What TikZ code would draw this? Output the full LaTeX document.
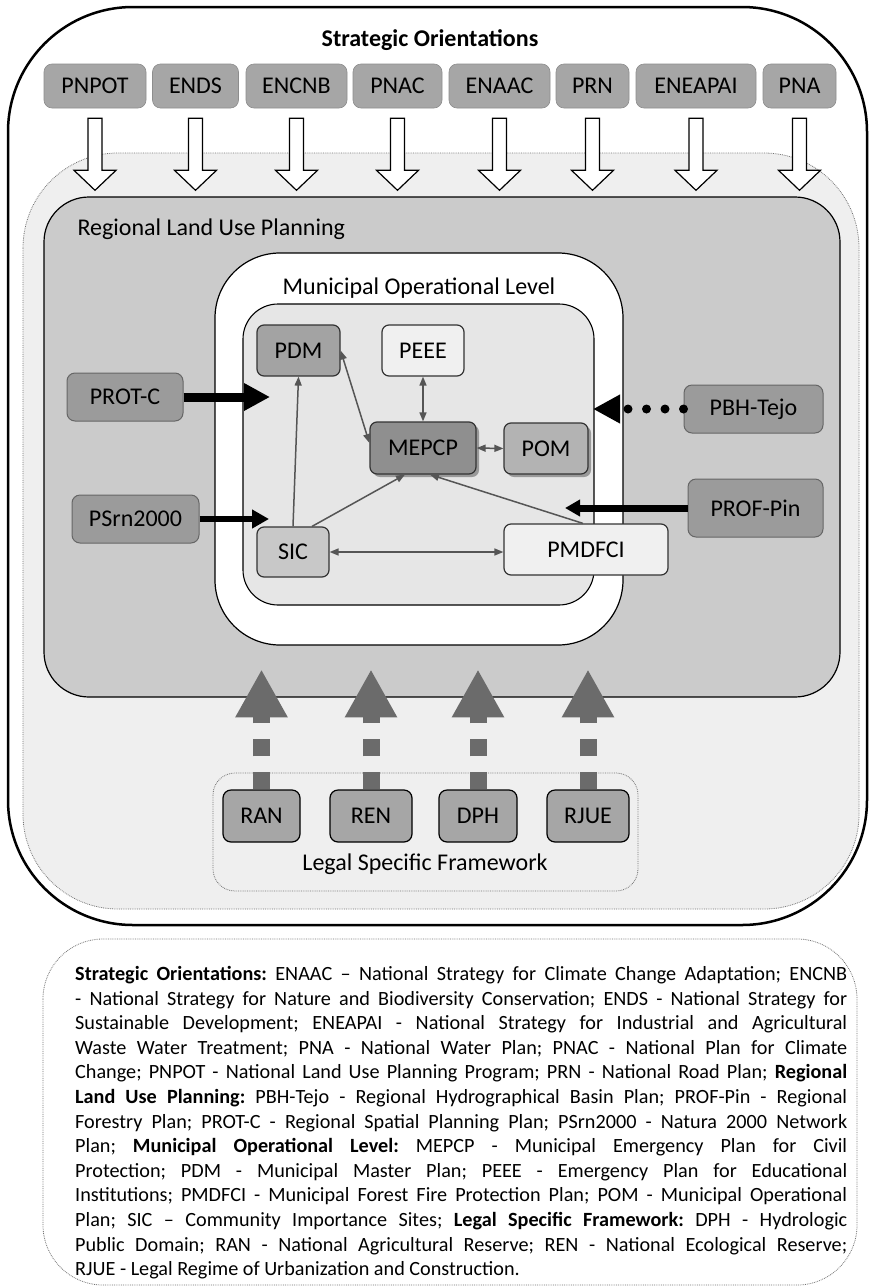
\documentclass[tikz,border=0pt]{standalone}
\usepackage{fontspec}
\setmainfont{Carlito}
\usetikzlibrary{arrows.meta,shadows,calc}
\definecolor{ctop}{HTML}{A6A6A6}
\definecolor{cdot}{HTML}{EFEFEF}
\definecolor{creg}{HTML}{CBCBCB}
\definecolor{cin}{HTML}{E6E6E6}
\definecolor{cpdm}{HTML}{A3A3A3}
\definecolor{cmep}{HTML}{8F8F8F}
\definecolor{cpom}{HTML}{B3B3B3}
\definecolor{clight}{HTML}{F0F0F0}
\definecolor{csic}{HTML}{C8C8C8}
\definecolor{cside}{HTML}{9B9B9B}
\definecolor{clegal}{HTML}{A6A6A6}
\definecolor{cdash}{HTML}{6B6B6B}
\definecolor{cline}{HTML}{555555}
\newcommand\labfont{\fontsize{24}{28}\selectfont}
\newcommand\hollowarrow[1]{%
  \draw[harrow] ($(#1.south)+(-7,10)$) -- ($(#1.south)+(-7,62)$) -- ($(#1.south)+(-21,62)$)
    -- ($(#1.south)+(0,82)$) -- ($(#1.south)+(21,62)$) -- ($(#1.south)+(7,62)$)
    -- ($(#1.south)+(7,10)$) -- cycle;}
\begin{document}
\begin{tikzpicture}[x=1pt,y=-1pt,
  topbox/.style={fill=ctop, draw=ctop!85!black, line width=0.6pt, rounded corners=8pt, minimum height=44pt, inner sep=0pt, font=\labfont},
  inbox/.style={draw=black!80, line width=1.2pt, rounded corners=7pt, inner sep=0pt, font=\labfont, minimum height=51pt},
  sidebox/.style={fill=cside, draw=black!60, line width=1pt, rounded corners=8pt, inner sep=0pt, font=\labfont, minimum height=48pt},
  legalbox/.style={fill=clegal, draw=black, line width=1.2pt, rounded corners=8pt, inner sep=0pt, font=\labfont, minimum height=52pt},
  harrow/.style={draw=black, fill=white, line width=1.2pt, line join=miter},
  conn/.style={draw=cline, line width=1.5pt, {Triangle[length=9pt,width=7pt]}-{Triangle[length=9pt,width=7pt]}},
  conn1/.style={draw=cline, line width=1.5pt, -{Triangle[length=9pt,width=7pt]}},
  dasharrow/.style={draw=cdash, line width=17pt, dash pattern=on 17pt off 16pt, -{Triangle[length=48pt,width=49pt]}},
  shd/.style={drop shadow={shadow xshift=3pt, shadow yshift=-3pt, fill=black!40, opacity=1}}
]
\useasboundingbox (0,0) rectangle (870,1288);
\fill[white] (0,0) rectangle (870,1288);

% containers
\draw[line width=2.5pt, rounded corners=125pt] (8,7) rectangle (867,925);
\draw[densely dotted, draw=black!55, fill=cdot, line width=0.8pt, rounded corners=95pt] (23,153) rectangle (859,909);
\draw[fill=creg, line width=1.2pt, rounded corners=45pt] (44,197) rectangle (840,697);
\draw[fill=white, line width=1.2pt, rounded corners=65pt] (215,253) rectangle (623,645);
\draw[fill=cin, line width=1.1pt, rounded corners=35pt] (243,304) rectangle (594,605);
\draw[densely dotted, draw=black!55, line width=0.8pt, rounded corners=22pt] (213,773) rectangle (638,891);
\draw[densely dotted, draw=black!55, line width=0.8pt, rounded corners=60pt] (43,939) rectangle (857,1285);

% titles
\node[font=\labfont\bfseries] (tSO) at (430,40) {Strategic Orientations};
\node[font=\labfont, anchor=west] (tRLUP) at (74,229) {Regional Land Use Planning};
\node[font=\labfont] (tMOL) at (419,288) {Municipal Operational Level};
\node[font=\labfont] (tLSF) at (425,864) {Legal Specific Framework};

% top boxes
\node[topbox, minimum width=102pt] (PNPOT) at (95,86) {PNPOT};
\node[topbox, minimum width=86pt] (ENDS) at (195.5,86) {ENDS};
\node[topbox, minimum width=101pt] (ENCNB) at (296.5,86) {ENCNB};
\node[topbox, minimum width=89pt] (PNAC) at (397.5,86) {PNAC};
\node[topbox, minimum width=101pt] (ENAAC) at (499.5,86) {ENAAC};
\node[topbox, minimum width=73pt] (PRN) at (592.5,86) {PRN};
\node[topbox, minimum width=120pt] (ENEAPAI) at (696,86) {ENEAPAI};
\node[topbox, minimum width=73pt] (PNA) at (799.5,86) {PNA};
\foreach \n in {PNPOT,ENDS,ENCNB,PNAC,ENAAC,PRN,ENEAPAI,PNA}{\hollowarrow{\n}}

% municipal nodes
\node[inbox, fill=cpdm, minimum width=83pt] (PDM) at (298.5,350.5) {PDM};
\node[inbox, fill=clight, minimum width=82pt] (PEEE) at (423,350.5) {PEEE};
\node[inbox, fill=cmep, minimum width=106pt, minimum height=52pt, shd] (MEPCP) at (423,448) {MEPCP};
\node[inbox, fill=cpom, minimum width=84pt, shd] (POM) at (546,448.5) {POM};
\node[inbox, fill=csic, minimum width=72pt, minimum height=50pt] (SIC) at (293,552) {SIC};
\node[inbox, fill=clight, minimum width=164pt] (PMDFCI) at (586,549.5) {PMDFCI};

% side nodes
\node[sidebox, minimum width=116pt] (PROTC) at (125,397) {PROT-C};
\node[sidebox, minimum width=127pt] (PSRN) at (135.5,519) {PSrn2000};
\node[sidebox, minimum width=139pt] (PBH) at (753.5,409) {PBH-Tejo};
\node[sidebox, minimum width=135pt, minimum height=58pt] (PROF) at (755.5,508) {PROF-Pin};

% legal nodes
\node[legalbox, minimum width=77pt] (RAN) at (261.5,816) {RAN};
\node[legalbox, minimum width=82pt] (REN) at (371,816) {REN};
\node[legalbox, minimum width=78pt] (DPH) at (478,816) {DPH};
\node[legalbox, minimum width=82pt] (RJUE) at (588,816) {RJUE};

% inner connectors
\draw[conn] (PDM.east) -- ([yshift=5pt]MEPCP.west);
\draw[conn] (PEEE.south) -- (MEPCP.north);
\draw[conn] (MEPCP.east) -- (POM.west);
\draw[conn1] (SIC.north) -- (PDM.south);
\draw[conn1] ([xshift=19pt]SIC.north) -- ([xshift=-18pt]MEPCP.south);
\draw[conn1] ([xshift=-3pt]PMDFCI.north) -- ([xshift=7pt]MEPCP.south);
\draw[conn] (SIC.east) -- (SIC.east -| PMDFCI.west);

% side arrows
\coordinate (protTip) at (270,397);
\coordinate (psrnTip) at (269,519);
\coordinate (pbhTip) at (593,409);
\coordinate (profTip) at (565,508);
\draw[line width=9pt, -{Triangle[length=26pt,width=26pt]}] (PROTC.east) -- (protTip);
\draw[line width=6pt, -{Triangle[length=17pt,width=18pt]}] (PSRN.east) -- (psrnTip);
\draw[line width=9pt, line cap=round, dash pattern=on 0pt off 18.5pt, -{Triangle[length=27pt,width=27pt]}] (PBH.west) -- (pbhTip);
\draw[line width=7pt, -{Triangle[length=15pt,width=16pt]}] (PROF.west) -- (profTip);

% legal arrows
\foreach \n in {RAN,REN,DPH,RJUE}{
  \coordinate (\n tip) at ($(\n.north)+(0,-120)$);
  \draw[dasharrow] (\n.north) -- (\n tip);
}

% legend
\node[anchor=north west, text width=772pt, align=justify, inner sep=0pt,
      font=\fontsize{20.2}{24.6}\selectfont] (legend) at (75,966) {%
\frenchspacing\hyphenpenalty=10000\exhyphenpenalty=10000\emergencystretch=20pt
\textbf{Strategic Orientations:} ENAAC – National Strategy for Climate Change Adaptation; ENCNB\linebreak
- National Strategy for Nature and Biodiversity Conservation; ENDS - National Strategy for\linebreak
Sustainable Development; ENEAPAI - National Strategy for Industrial and Agricultural\linebreak
Waste Water Treatment; PNA - National Water Plan; PNAC - National Plan for Climate\linebreak
Change; PNPOT - National Land Use Planning Program; PRN - National Road Plan; \textbf{Regional}\linebreak
\textbf{Land Use Planning:} PBH-Tejo - Regional Hydrographical Basin Plan; PROF-Pin - Regional\linebreak
Forestry Plan; PROT-C - Regional Spatial Planning Plan; PSrn2000 - Natura 2000 Network\linebreak
Plan; \textbf{Municipal Operational Level:} MEPCP - Municipal Emergency Plan for Civil\linebreak
Protection; PDM - Municipal Master Plan; PEEE - Emergency Plan for Educational\linebreak
Institutions; PMDFCI - Municipal Forest Fire Protection Plan; POM - Municipal Operational\linebreak
Plan; SIC – Community Importance Sites; \textbf{Legal Specific Framework:} DPH - Hydrologic\linebreak
Public Domain; RAN - National Agricultural Reserve; REN - National Ecological Reserve;\linebreak
RJUE - Legal Regime of Urbanization and Construction.};
\end{tikzpicture}
\end{document}
